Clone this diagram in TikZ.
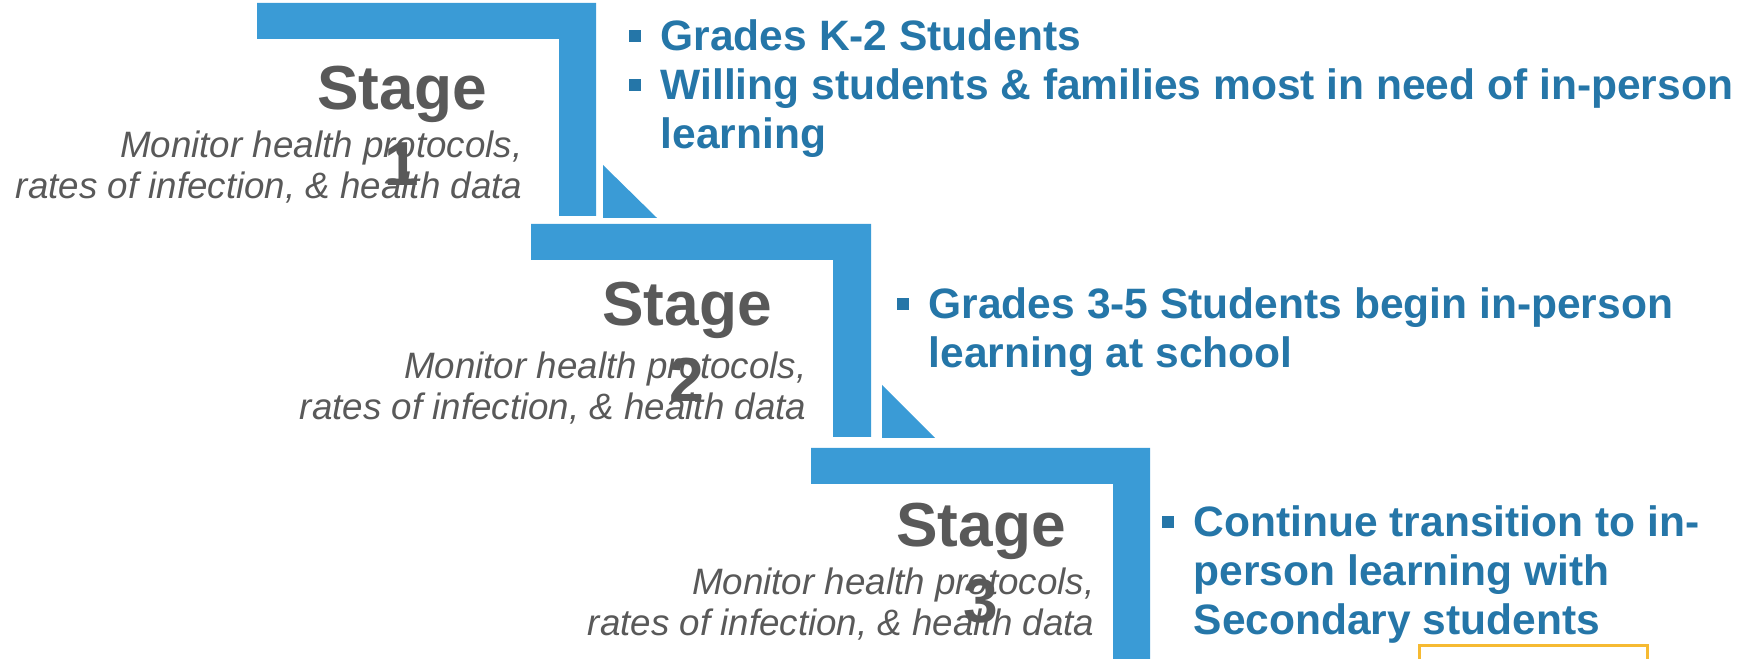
\documentclass[tikz,border=0pt]{standalone}
\usepackage{fontspec}
\setmainfont{Liberation Sans}
\definecolor{stepblue}{RGB}{58,155,214}
\definecolor{textblue}{RGB}{37,118,168}
\definecolor{stagegray}{RGB}{89,89,89}
\definecolor{boxorange}{RGB}{246,186,50}
\newcommand{\bul}{\makebox[3.2mm][l]{\rule[0.9mm]{1.2mm}{1.2mm}}}

\begin{document}
\begin{tikzpicture}[
  bar/.style={fill=stepblue, draw=none},
  stage/.style={font=\fontsize{17.7}{21.9}\selectfont\bfseries, text=stagegray, align=center, inner sep=0, anchor=base},
  note/.style={font=\fontsize{10.45}{11.9}\selectfont\itshape, text=stagegray, align=right, inner sep=0, anchor=base east},
  points/.style={font=\fontsize{12.1}{14}\selectfont\bfseries, text=textblue, align=left, inner sep=0, anchor=base west}
]
\useasboundingbox (0,0) rectangle (175.2mm,-65.9mm);

% steps
\fill[bar] (25.7mm,-0.3mm) -- (59.6mm,-0.3mm) -- (59.6mm,-21.6mm) -- (55.9mm,-21.6mm) -- (55.9mm,-3.9mm) -- (25.7mm,-3.9mm) -- cycle;
\fill[bar] (53.1mm,-22.4mm) -- (87.1mm,-22.4mm) -- (87.1mm,-43.7mm) -- (83.3mm,-43.7mm) -- (83.3mm,-26.0mm) -- (53.1mm,-26.0mm) -- cycle;
\fill[bar] (81.1mm,-44.8mm) -- (115.0mm,-44.8mm) -- (115.0mm,-65.9mm) -- (111.3mm,-65.9mm) -- (111.3mm,-48.4mm) -- (81.1mm,-48.4mm) -- cycle;
\fill[bar] (60.3mm,-16.5mm) -- (60.3mm,-21.8mm) -- (65.7mm,-21.8mm) -- cycle;
\fill[bar] (88.2mm,-38.5mm) -- (88.2mm,-43.8mm) -- (93.5mm,-43.8mm) -- cycle;

% base anchor sits on the last line
\node[stage] (s1) at (40.2mm,-18.6mm) {Stage\\1};
\node[stage] (s2) at (68.7mm,-40.2mm) {Stage\\2};
\node[stage] (s3) at (98.1mm,-62.3mm) {Stage\\3};

\node[note] (n1) at (52.3mm,-19.9mm) {Monitor health protocols,\\rates of infection, \& health data};
\node[note] (n2) at (80.7mm,-42.0mm) {Monitor health protocols,\\rates of infection, \& health data};
\node[note] (n3) at (109.5mm,-63.6mm) {Monitor health protocols,\\rates of infection, \& health data};

\node[points] (p1) at (62.8mm,-14.9mm) {\bul Grades K-2 Students\\\bul Willing students \& families most in need of in-person\\\hspace*{3.2mm}learning};
\node[points] (p2) at (89.6mm,-36.8mm) {\bul Grades 3-5 Students begin in-person\\\hspace*{3.2mm}learning at school};
\node[points] (p3) at (116.1mm,-63.5mm) {\bul Continue transition to in-\\\hspace*{3.2mm}person learning with\\\hspace*{3.2mm}Secondary students};

\draw[boxorange, line width=0.3mm] (141.9mm,-65.9mm) -- (141.9mm,-64.6mm) -- (164.7mm,-64.6mm) -- (164.7mm,-65.9mm);
\end{tikzpicture}
\end{document}
